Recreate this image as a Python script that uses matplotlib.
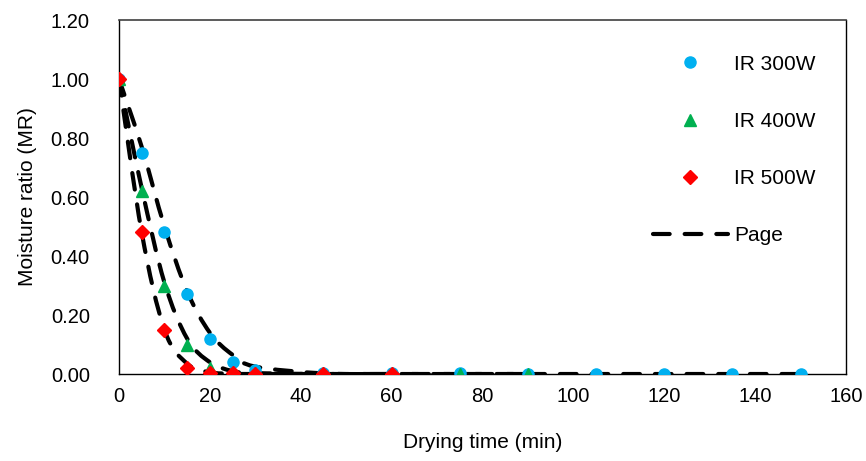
import numpy as np
import matplotlib
matplotlib.use("Agg")
import matplotlib.pyplot as plt
from matplotlib.path import Path
from matplotlib.patches import PathPatch
from matplotlib.lines import Line2D

# ------------------------------------------------------------
# DATA
# ------------------------------------------------------------

t_300 = [0, 5, 10, 15, 20, 25, 30, 45, 60, 75, 90, 105, 120, 135, 150]
mr_300 = [1.00, 0.75, 0.48, 0.27, 0.12, 0.04, 0.015, 0.005, 0.003, 0.002,
          0.001, 0.0, 0.0, 0.0, 0.0]

t_400 = [0, 5, 10, 15, 20, 25, 30, 45, 60, 75, 90]
mr_400 = [1.00, 0.62, 0.30, 0.10, 0.02, 0.005, 0.002, 0.0, 0.0, 0.0, 0.0]

t_500 = [0, 5, 10, 15, 20, 25, 30, 45, 60]
mr_500 = [1.00, 0.48, 0.15, 0.02, 0.005, 0.002, 0.001, 0.0, 0.0]

# Page model predictions at the same times
page_300 = [1.00, 0.77, 0.50, 0.28, 0.14, 0.065, 0.025, 0.002, 0.0, 0.0,
            0.0, 0.0, 0.0, 0.0, 0.0]
page_400 = [1.00, 0.63, 0.31, 0.12, 0.04, 0.01, 0.003, 0.0, 0.0, 0.0, 0.0]
page_500 = [1.00, 0.48, 0.15, 0.035, 0.006, 0.001, 0.0, 0.0, 0.0]

x_ticks = [0, 20, 40, 60, 80, 100, 120, 140, 160]
y_ticks = [0.0, 0.2, 0.4, 0.6, 0.8, 1.0, 1.2]

# ------------------------------------------------------------
# STYLE
# ------------------------------------------------------------

plt.rcParams["font.family"] = ["Liberation Sans", "DejaVu Sans"]

BLUE = "#00B0F0"
GREEN = "#00B050"
RED = "#FF0000"

DASH = (0, (4.0, 3.6))


def smooth_path(x, y):
    # Excel-like smoothed line: Catmull-Rom converted to cubic Bezier
    pts = np.column_stack([x, y]).astype(float)
    verts = [pts[0]]
    codes = [Path.MOVETO]
    n = len(pts)
    for i in range(n - 1):
        p0 = pts[i - 1] if i > 0 else pts[i]
        p1 = pts[i]
        p2 = pts[i + 1]
        p3 = pts[i + 2] if i + 2 < n else pts[i + 1]
        c1 = p1 + (p2 - p0) / 6.0
        c2 = p2 - (p3 - p1) / 6.0
        verts += [c1, c2, p2]
        codes += [Path.CURVE4] * 3
    return Path(verts, codes)


fig = plt.figure(figsize=(8.66, 4.61), dpi=100)
ax = fig.add_axes([0.1374, 0.1887, 0.8395, 0.7679])

for tx, py in [(t_300, page_300), (t_400, page_400), (t_500, page_500)]:
    patch = PathPatch(smooth_path(tx, py), facecolor="none",
                      edgecolor="black", linewidth=3.0,
                      linestyle=DASH, capstyle="round", zorder=2)
    ax.add_patch(patch)

ax.plot(t_300, mr_300, "o", color=BLUE, markersize=8, linestyle="none",
        zorder=3, label="IR 300W")
ax.plot(t_400, mr_400, "^", color=GREEN, markersize=9, linestyle="none",
        zorder=4, label="IR 400W")
ax.plot(t_500, mr_500, "D", color=RED, markersize=7.5, linestyle="none",
        zorder=5, label="IR 500W")

ax.set_xlim(0, 160)
ax.set_ylim(0, 1.2)
ax.set_xticks(x_ticks)
ax.set_yticks(y_ticks)
ax.set_yticklabels([f"{v:.2f}" for v in y_ticks])
ax.tick_params(axis="both", length=0, labelsize=14.5)
ax.tick_params(axis="y", pad=21)
ax.tick_params(axis="x", pad=9)

for side in ["left", "bottom", "right"]:
    ax.spines[side].set_color("black")
    ax.spines[side].set_linewidth(1.0)
ax.spines["top"].set_color("#404040")
ax.spines["top"].set_linewidth(1.2)

ax.set_xlabel("Drying time (min)", fontsize=15, labelpad=20)
ax.set_ylabel("Moisture ratio (MR)", fontsize=15, labelpad=10)

handles, labels = ax.get_legend_handles_labels()
handles.append(Line2D([], [], color="black", linewidth=3.0, linestyle=DASH,
                      dash_capstyle="round"))
labels.append("Page")
ax.legend(handles, labels, loc="upper left",
          bbox_to_anchor=(634 / 866, 1 - 36 / 461),
          bbox_transform=fig.transFigure, frameon=False, fontsize=15,
          labelspacing=1.83, handlelength=3.6, handletextpad=0.3,
          borderpad=0.4)

fig.savefig("out.png", dpi=100)
plt.close(fig)
